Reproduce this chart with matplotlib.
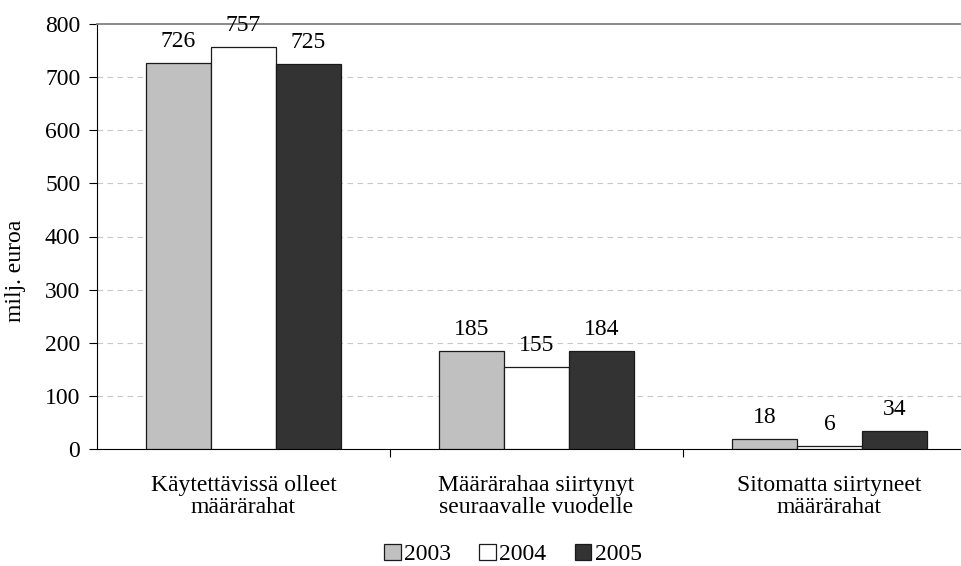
import matplotlib
matplotlib.use('Agg')
import matplotlib.pyplot as plt
import numpy as np

categories = ['Käytettävissä olleet\nmäärärahat',
              'Määrärahaa siirtynyt\nseuraavalle vuodelle',
              'Sitomatta siirtyneet\nmäärärahat']
years = ['2003', '2004', '2005']
values_2003 = [726, 185, 18]
values_2004 = [757, 155, 6]
values_2005 = [725, 184, 34]
colors = ['#c0c0c0', '#ffffff', '#333333']

plt.rcParams['font.family'] = ['Liberation Serif', 'DejaVu Serif']
plt.rcParams['font.size'] = 17

fig = plt.figure(figsize=(9.62, 5.66), dpi=100)
ax = fig.add_axes([97 / 962, 1 - 449 / 566, 1 - 97 / 962, (449 - 24) / 566])

x = np.arange(len(categories))
w = 0.222
series = [values_2003, values_2004, values_2005]
for i, (vals, year, col) in enumerate(zip(series, years, colors)):
    bars = ax.bar(x + (i - 1) * w, vals, w, color=col, edgecolor='#1a1a1a',
                  linewidth=0.9, label=year, zorder=3)
    for b, v in zip(bars, vals):
        ax.annotate(str(v), (b.get_x() + b.get_width() / 2, v),
                    xytext=(0, 8), textcoords='offset points',
                    ha='center', va='bottom', fontsize=17, zorder=4)

ax.set_xlim(-0.5, (962 - 97) / 293 - 0.5)
ax.set_ylim(0, 800)
ax.set_yticks(np.arange(0, 801, 100))
ax.tick_params(axis='y', labelsize=17, direction='out', length=6, width=0.8, pad=6)
for yv in range(100, 800, 100):
    ax.axhline(yv, color='#c8c8c8', linestyle=(0, (5, 4)), linewidth=0.8, zorder=1)

ax.set_xticks(x)
ax.set_xticklabels(categories, fontsize=17, linespacing=1.05)
ax.tick_params(axis='x', which='major', length=0, pad=19)
ax.set_xticks([0.5, 1.5], minor=True)
ax.tick_params(axis='x', which='minor', length=6, width=0.8, direction='out')

ax.spines['right'].set_visible(False)
ax.spines['top'].set_color('#808080')
ax.spines['top'].set_linewidth(1.3)
ax.spines['left'].set_linewidth(0.8)
ax.spines['bottom'].set_linewidth(0.8)

ax.set_ylabel('milj. euroa', fontsize=17)
ax.yaxis.set_label_coords((26 - 97) / 865, (449 - 271) / 425)

fig.legend(loc='lower center', bbox_to_anchor=(513 / 962, -0.036), ncol=3, frameon=False,
           fontsize=17, handlelength=0.7, handleheight=0.7, handletextpad=0.15,
           columnspacing=1.2)

fig.savefig('out.png', dpi=100)
